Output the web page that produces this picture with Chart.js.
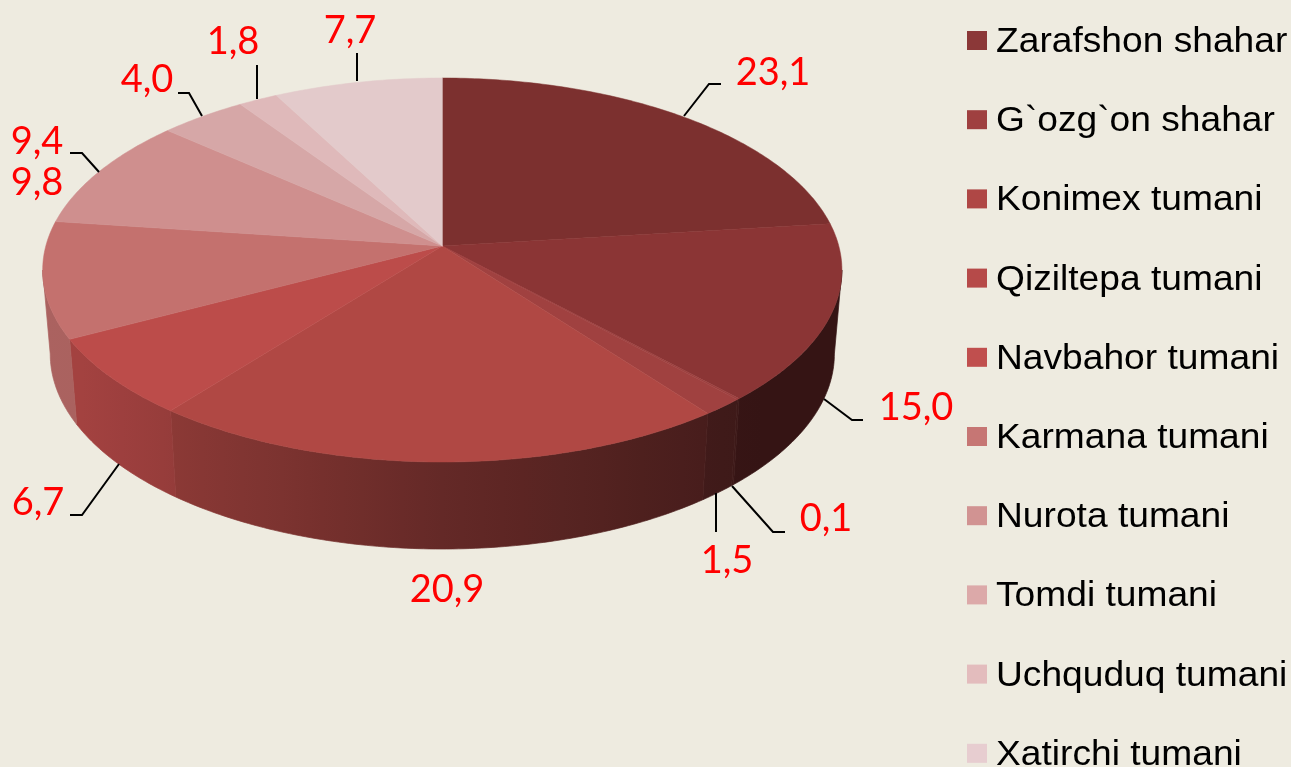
<!DOCTYPE html>
<html>
<head>
<meta charset="utf-8">
<style>html,body{margin:0;padding:0;background:#EEEBE0;overflow:hidden}canvas{display:block}</style>
<script src="https://cdn.jsdelivr.net/npm/chart.js@4"></script>
</head>
<body>
<canvas id="c" width="1291" height="767"></canvas>
<script>
// Data
const categories = ["Zarafshon shahar","G`ozg`on shahar","Konimex tumani","Qiziltepa tumani","Navbahor tumani","Karmana tumani","Nurota tumani","Tomdi tumani","Uchquduq tumani","Xatirchi tumani",""];
const values = [23.1,15.0,0.1,1.5,20.9,6.7,9.8,9.4,4.0,1.8,7.7];
const valueLabels = ["23,1","15,0","0,1","1,5","20,9","6,7","9,8","9,4","4,0","1,8","7,7"];
// Styles
const sliceColors = ["#7C302F","#8B3535","#9C3F3E","#A04140","#B04844","#BC4C4A","#C4716E","#CF8F8E","#D6A7A7","#DFB9BA","#E3CACB"];
const legendColors = ["#8B3838","#9F4040","#AF4745","#B64A49","#C04F4E","#C67674","#D19392","#DCA9A9","#E3BCBD","#E7CDD0"];
// Label placement (centre x, baseline y) and leader polylines
const labelPlaces = [[773,85],[916,420],[826,531],[727,573],[447,602],[38,515],[37,195],[37,154],[147,92],[233,54],[350,43]];
const leaders = [
  [[684,116],[709,84],[721,84]],
  [[824,399],[852,420],[863,420]],
  [[732,486],[773,532],[785,532]],
  [[716,493],[716,532]],
  null,
  [[119,464],[82,515],[70,515]],
  [[99,172],[82,153],[70,153]],
  null,
  [[202,116],[189,93],[178,93]],
  [[257,99],[257,65]],
  [[357,81],[357,53]]
];
// Perspective discs: a circle seen at an angle (top face and bottom rim)
const K = 0.125;
const topDisc = {cx:442.3, cy:246, a:396.5, b:189};
const botDisc = {cx:442.3, cy:329.6, a:389, b:192};
function project(d, ang){
  const u = Math.cos(ang), v = Math.sin(ang), w = 1 - K*v;
  return [d.cx + d.a*u/w, d.cy + d.b*v/w];
}
function shade(hex, f){
  const n = parseInt(hex.slice(1),16);
  const ch = s => Math.round(((n>>s)&255)*f);
  return `rgb(${ch(16)},${ch(8)},${ch(0)})`;
}
function wallFactor(u){ return u<0 ? Math.min(.87,.57-.33*u) : Math.max(.38,.57-.25*u); }
function arcPoints(d, a0, a1, stepDiv){
  const n = Math.max(2,Math.ceil((a1-a0)/(Math.PI/stepDiv))), out=[];
  for(let k=0;k<=n;k++) out.push(project(d,a0+(a1-a0)*k/n));
  return out;
}

const pie3d = {
  id:'pie3d',
  beforeDatasetsDraw(chart){
    const ctx = chart.ctx, arcs = chart.getDatasetMeta(0).data;
    const colors = chart.data.datasets[0].backgroundColor;
    ctx.save();
    ctx.fillStyle = '#EEEBE0';
    ctx.fillRect(0,0,chart.width,chart.height);
    // outer walls: only the part between the two silhouette angles is seen
    const silA = Math.asin(K), silB = Math.PI - silA;
    ctx.lineJoin='round';
    arcs.forEach((arc,i)=>{
      const a0 = Math.max(arc.startAngle,silA), a1 = Math.min(arc.endAngle,silB);
      if(a1<=a0) return;
      const pts = arcPoints(topDisc,a0,a1,240).concat(arcPoints(botDisc,a0,a1,240).reverse());
      const g = ctx.createLinearGradient(42,0,842,0);
      for(let s=0;s<=20;s++) g.addColorStop(s/20, shade(colors[i], wallFactor(-1+2*s/20)));
      ctx.beginPath();
      pts.forEach((p,k)=> k?ctx.lineTo(p[0],p[1]):ctx.moveTo(p[0],p[1]));
      ctx.closePath();
      ctx.fillStyle=g; ctx.strokeStyle=g; ctx.lineWidth=0.7;
      ctx.fill(); ctx.stroke();
    });
    // top faces
    arcs.forEach((arc,i)=>{
      ctx.beginPath();
      ctx.moveTo(topDisc.cx,topDisc.cy);
      arcPoints(topDisc,arc.startAngle,arc.endAngle,240).forEach(p=>ctx.lineTo(p[0],p[1]));
      ctx.closePath();
      ctx.fillStyle=colors[i]; ctx.strokeStyle=colors[i]; ctx.lineWidth=0.5;
      ctx.fill(); ctx.stroke();
    });
    ctx.restore();
    return false;
  },
  afterDraw(chart){
    const ctx = chart.ctx;
    ctx.save();
    ctx.strokeStyle='#000'; ctx.lineWidth=2; ctx.lineCap='butt'; ctx.lineJoin='miter';
    leaders.forEach(l=>{
      if(!l) return;
      ctx.beginPath();
      l.forEach((p,i)=> i?ctx.lineTo(p[0],p[1]):ctx.moveTo(p[0],p[1]));
      ctx.stroke();
    });
    ctx.fillStyle='#FF0000';
    ctx.font='38px Lato';
    ctx.textAlign='center'; ctx.textBaseline='alphabetic';
    valueLabels.forEach((t,i)=>ctx.fillText(t,labelPlaces[i][0],labelPlaces[i][1]));
    // legend (the eleventh entry falls below the picture)
    ctx.textAlign='left';
    ctx.font='35px "Liberation Sans"';
    categories.forEach((name,i)=>{
      if(!name) return;
      const y = 52 + i*79.2;
      ctx.fillStyle=legendColors[i];
      ctx.fillRect(967,y-21,20,19);
      ctx.fillStyle='#000';
      ctx.save();
      ctx.translate(996,y);
      ctx.scale(1.062,1);
      ctx.fillText(name,0,0);
      ctx.restore();
    });
    ctx.restore();
  }
};
new Chart(document.getElementById('c'),{
  type:'pie',
  data:{labels:categories,datasets:[{data:values,backgroundColor:sliceColors,borderWidth:0}]},
  options:{
    responsive:false,animation:false,
    plugins:{legend:{display:false},tooltip:{enabled:false},title:{display:false}}
  },
  plugins:[pie3d]
});
</script>
</body>
</html>
